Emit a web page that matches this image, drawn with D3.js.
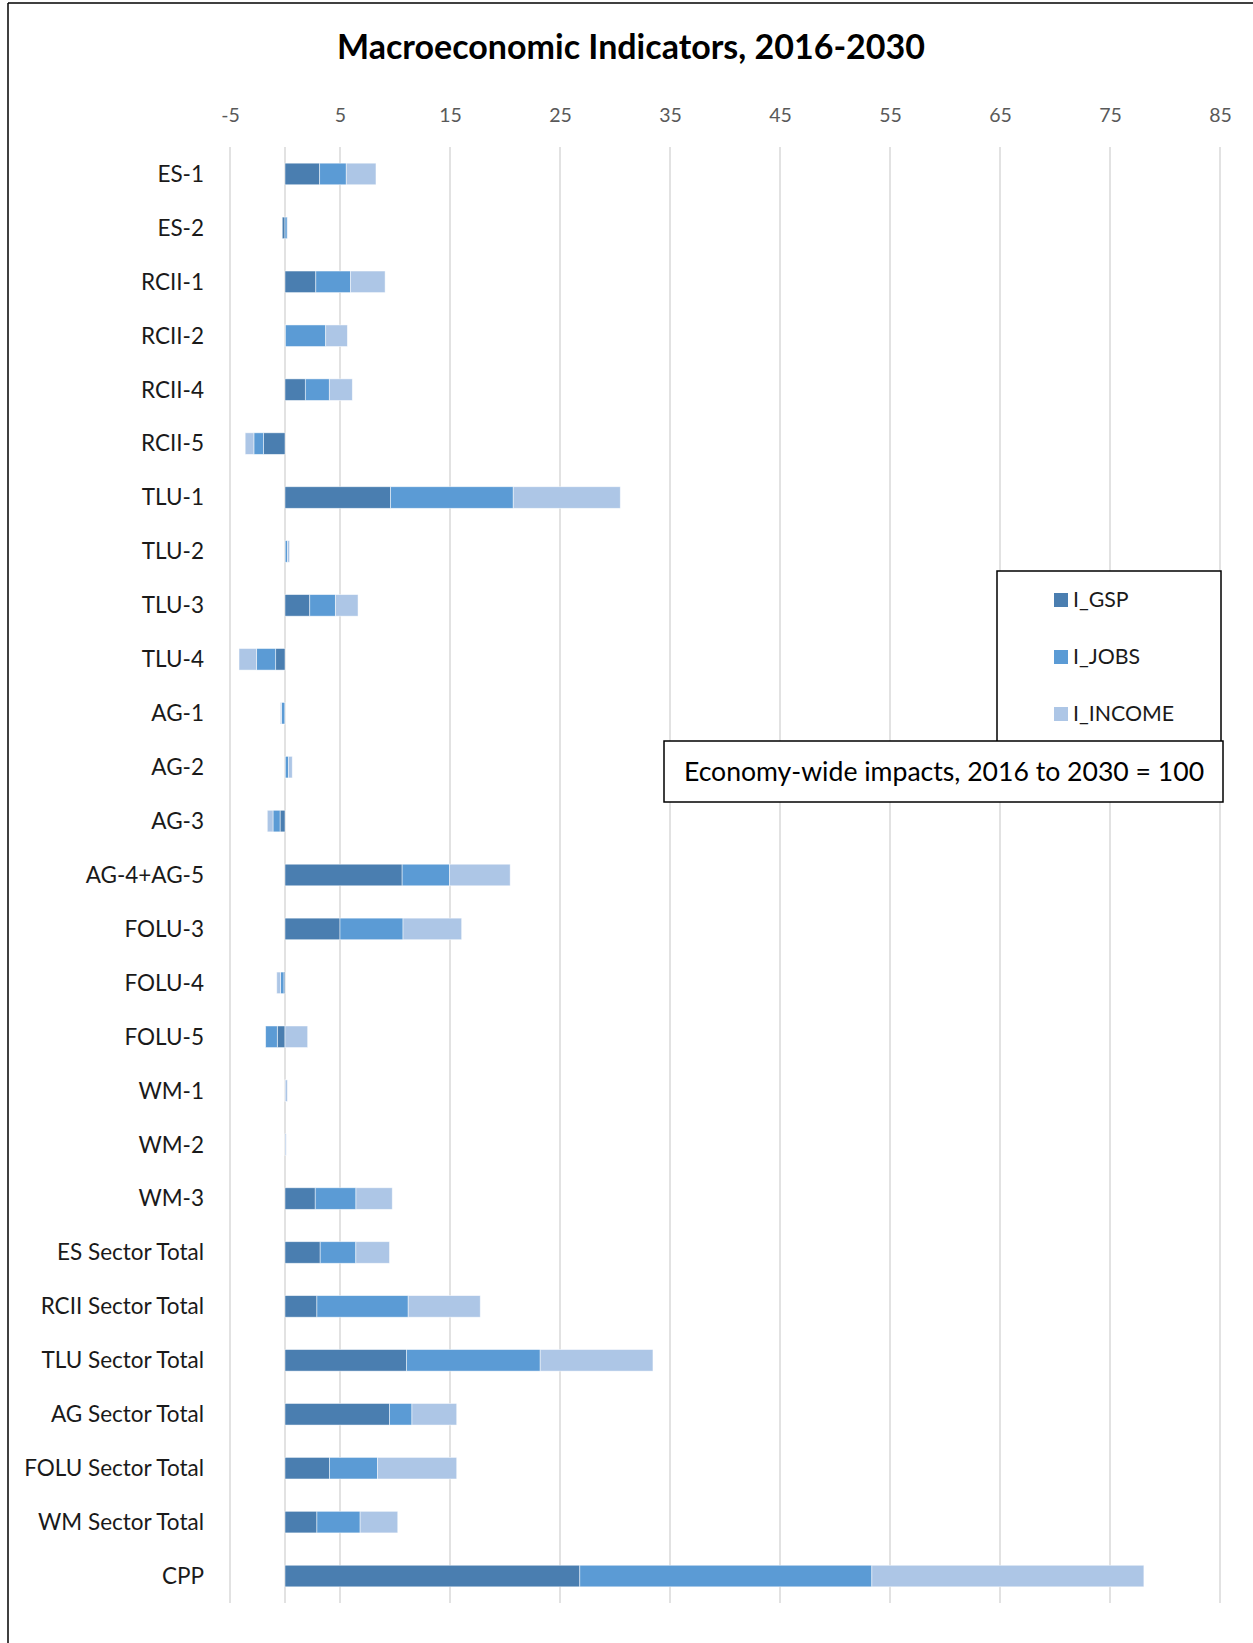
<!DOCTYPE html>
<html>
<head>
<meta charset="utf-8">
<script src="https://cdn.jsdelivr.net/npm/d3@7/dist/d3.min.js"></script>
<style>
  html, body { margin: 0; padding: 0; background: #fff; }
  svg { display: block; }
</style>
</head>
<body>
<svg id="chart" width="1253" height="1643"></svg>
<script>
// Macroeconomic impacts by measure, stacked by indicator
const categories = [
  "ES-1", "ES-2", "RCII-1", "RCII-2", "RCII-4", "RCII-5",
  "TLU-1", "TLU-2", "TLU-3", "TLU-4",
  "AG-1", "AG-2", "AG-3", "AG-4+AG-5",
  "FOLU-3", "FOLU-4", "FOLU-5",
  "WM-1", "WM-2", "WM-3",
  "ES Sector Total", "RCII Sector Total", "TLU Sector Total",
  "AG Sector Total", "FOLU Sector Total", "WM Sector Total", "CPP"
];
const seriesNames = ["I_GSP", "I_JOBS", "I_INCOME"];
const gsp = [3.15, -0.25, 2.8, 0.05, 1.85, -1.95, 9.6, 0.02, 2.25, -0.85,
             -0.02, 0.03, -0.45, 10.65, 5.0, -0.1, -0.7, 0.01, 0.01, 2.75,
             3.2, 2.9, 11.05, 9.5, 4.05, 2.9, 26.8];
const jobs = [2.42, 0.2, 3.15, 3.65, 2.18, -0.88, 11.15, 0.2, 2.33, -1.73,
              -0.3, 0.3, -0.64, 4.3, 5.73, -0.3, -1.06, 0.01, 0.0, 3.7,
              3.24, 8.3, 12.15, 2.04, 4.36, 3.93, 26.55];
const income = [2.7, 0.03, 3.15, 1.97, 2.09, -0.79, 9.73, 0.2, 2.06, -1.6,
                -0.1, 0.33, -0.52, 5.52, 5.33, -0.35, 2.06, 0.2, 0.1, 3.3,
                3.06, 6.55, 10.25, 4.07, 7.2, 3.42, 24.73];
const tickValues = [-5, 5, 15, 25, 35, 45, 55, 65, 75, 85];
const colors = ["#4a7eb0", "#5b9bd5", "#adc6e6"];

const titleText = "Macroeconomic Indicators, 2016-2030";
const noteText = "Economy-wide impacts, 2016 to 2030 = 100";

const svg = d3.select("#chart");
const font = "Lato, 'Open Sans', sans-serif";

// outer frame (top and left edges)
svg.append("line").attr("x1", 8).attr("x2", 1253).attr("y1", 3).attr("y2", 3)
  .attr("stroke", "#000").attr("stroke-width", 1.5);
svg.append("line").attr("x1", 8).attr("x2", 8).attr("y1", 3).attr("y2", 1643)
  .attr("stroke", "#000").attr("stroke-width", 1.5);

const plotTop = 147, plotBottom = 1603;
const x = d3.scaleLinear().domain([-5, 85]).range([230, 1220]);
const y = d3.scaleBand().domain(categories).range([plotTop, plotBottom])
  .paddingInner(0.6).paddingOuter(0.3);

// title
svg.append("text")
  .attr("x", 631).attr("y", 59)
  .attr("text-anchor", "middle")
  .attr("font-family", font).attr("font-weight", "bold")
  .attr("font-size", 34).attr("fill", "#000")
  .text(titleText);

// vertical gridlines
svg.append("g").selectAll("line").data(tickValues).join("line")
  .attr("x1", d => x(d)).attr("x2", d => x(d))
  .attr("y1", plotTop).attr("y2", plotBottom)
  .attr("stroke", "#d9d9d9").attr("stroke-width", 1.5);

// zero axis line
svg.append("line")
  .attr("x1", x(0)).attr("x2", x(0))
  .attr("y1", plotTop).attr("y2", plotBottom)
  .attr("stroke", "#d9d9d9").attr("stroke-width", 1.5);

// top axis labels
const axisTop = d3.axisTop(x).tickValues(tickValues).tickFormat(d => String(d))
  .tickSize(0).tickPadding(0);
const axG = svg.append("g").attr("transform", "translate(0,122)").call(axisTop);
axG.select(".domain").remove();
axG.selectAll("text")
  .attr("font-family", font).attr("font-size", 19.5).attr("fill", "#595959")
  .attr("dy", 0);

// category labels
const axisLeft = d3.axisLeft(y).tickSize(0).tickPadding(0);
const ayG = svg.append("g").attr("transform", "translate(204,0)").call(axisLeft);
ayG.select(".domain").remove();
ayG.selectAll("text")
  .attr("font-family", font).attr("font-size", 22.5).attr("fill", "#1a1a1a")
  .attr("dy", "0.35em");

// stacked bars, negatives stacked leftward from zero
const rows = categories.map((c, i) => ({
  cat: c, I_GSP: gsp[i], I_JOBS: jobs[i], I_INCOME: income[i]
}));
const stack = d3.stack().keys(seriesNames).offset(d3.stackOffsetDiverging);
const layers = stack(rows);

svg.append("g").selectAll("g").data(layers).join("g")
  .attr("fill", (d, i) => colors[i])
  .selectAll("rect").data(d => d).join("rect")
  .attr("x", d => x(Math.min(d[0], d[1])))
  .attr("width", d => Math.abs(x(d[1]) - x(d[0])))
  .attr("y", d => y(d.data.cat))
  .attr("height", y.bandwidth())
  .attr("stroke", "#ffffff").attr("stroke-opacity", 0.6).attr("stroke-width", 0.8);

// legend box
const lg = svg.append("g");
lg.append("rect").attr("x", 997).attr("y", 571).attr("width", 224).attr("height", 200)
  .attr("fill", "#fff").attr("stroke", "#000").attr("stroke-width", 1.5);
const legendY = [600, 657, 714];
seriesNames.forEach((name, i) => {
  lg.append("rect").attr("x", 1054).attr("y", legendY[i] - 7)
    .attr("width", 14).attr("height", 14).attr("fill", colors[i]);
  lg.append("text").attr("x", 1073).attr("y", legendY[i])
    .attr("dy", "0.35em")
    .attr("font-family", font).attr("font-size", 21.3).attr("fill", "#1a1a1a")
    .text(name);
});

// note box
const nb = svg.append("g");
nb.append("rect").attr("x", 664).attr("y", 741).attr("width", 559).attr("height", 61)
  .attr("fill", "#fff").attr("stroke", "#000").attr("stroke-width", 1.5);
nb.append("text").attr("x", 944).attr("y", 771.5)
  .attr("dy", "0.35em").attr("text-anchor", "middle")
  .attr("font-family", font).attr("font-size", 26.6).attr("fill", "#000")
  .text(noteText);
</script>
</body>
</html>
